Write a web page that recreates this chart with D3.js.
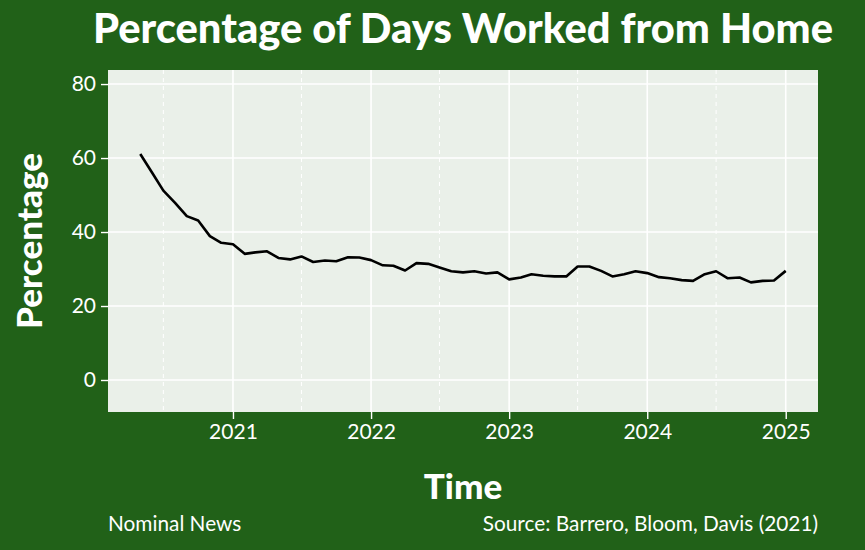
<!DOCTYPE html>
<html><head><meta charset="utf-8">
<script src="https://cdn.jsdelivr.net/npm/d3@7"></script>
<style>
html,body{margin:0;padding:0;background:#216118;}
svg{display:block;}
text{font-family:Lato,"Open Sans",sans-serif;fill:#fff;}
</style></head>
<body>
<svg id="chart" width="865" height="550"></svg>
<script>
const months = [
"2020-05","2020-06","2020-07","2020-08","2020-09","2020-10","2020-11","2020-12",
"2021-01","2021-02","2021-03","2021-04","2021-05","2021-06","2021-07","2021-08","2021-09","2021-10","2021-11","2021-12",
"2022-01","2022-02","2022-03","2022-04","2022-05","2022-06","2022-07","2022-08","2022-09","2022-10","2022-11","2022-12",
"2023-01","2023-02","2023-03","2023-04","2023-05","2023-06","2023-07","2023-08","2023-09","2023-10","2023-11","2023-12",
"2024-01","2024-02","2024-03","2024-04","2024-05","2024-06","2024-07","2024-08","2024-09","2024-10","2024-11","2024-12",
"2025-01"];
const wfhPercent = [
61.1,56.1,51.2,47.9,44.3,43.1,38.9,37.1,
36.7,34.1,34.5,34.8,33.0,32.6,33.4,31.9,32.3,32.1,33.2,33.1,
32.4,31.0,30.9,29.6,31.6,31.4,30.4,29.4,29.1,29.4,28.8,29.1,
27.2,27.7,28.6,28.2,28.0,28.0,30.7,30.7,29.5,28.0,28.6,29.4,
28.9,27.8,27.5,27.0,26.8,28.6,29.4,27.5,27.7,26.4,26.8,26.9,
29.5];
const yTicks = [0,20,40,60,80];
const xTickYears = ["2021","2022","2023","2024","2025"];
const minorYears = ["2020-07","2021-07","2022-07","2023-07","2024-07"];
const titleText = "Percentage of Days Worked from Home";
const xLabel = "Time", yLabel = "Percentage";
const captionLeft = "Nominal News", captionRight = "Source: Barrero, Bloom, Davis (2021)";

const parse = d3.timeParse("%Y-%m");
const data = months.map((m,i)=>({date:parse(m), v:wfhPercent[i]}));

const svg = d3.select("#chart");
const panel = {left:108, right:818, top:70, bottom:412};

const ext = d3.extent(data, d=>d.date);
const span = ext[1]-ext[0];
const x = d3.scaleTime()
  .domain([new Date(+ext[0]-span*0.05), new Date(+ext[1]+span*0.05)])
  .range([panel.left, panel.right]);
const y = d3.scaleLinear().domain([-8.65, 83.8]).range([panel.bottom, panel.top]);

svg.append("rect").attr("width",865).attr("height",550).attr("fill","#216118");
svg.append("rect").attr("x",panel.left).attr("y",panel.top)
  .attr("width",panel.right-panel.left).attr("height",panel.bottom-panel.top)
  .attr("fill","#EAF0E9");

const majorX = xTickYears.map(s=>d3.timeParse("%Y")(s));
const minorX = minorYears.map(parse);

const g = svg.append("g");
g.selectAll(".minx").data(minorX).join("line")
  .attr("x1",d=>x(d)).attr("x2",d=>x(d)).attr("y1",panel.top).attr("y2",panel.bottom)
  .attr("stroke","#fff").attr("stroke-width",1).attr("stroke-dasharray","4,4");
g.selectAll(".majy").data(yTicks).join("line")
  .attr("x1",panel.left).attr("x2",panel.right).attr("y1",d=>y(d)).attr("y2",d=>y(d))
  .attr("stroke","#fff").attr("stroke-width",1.6);
g.selectAll(".majx").data(majorX).join("line")
  .attr("x1",d=>x(d)).attr("x2",d=>x(d)).attr("y1",panel.top).attr("y2",panel.bottom)
  .attr("stroke","#fff").attr("stroke-width",1.6);

// axes
const xAxis = d3.axisBottom(x).tickValues(majorX).tickFormat(d3.timeFormat("%Y")).tickSize(7).tickPadding(5);
const gx = svg.append("g").attr("transform",`translate(0,${panel.bottom})`).call(xAxis);
gx.select(".domain").remove();
gx.selectAll("line").attr("stroke","#fff").attr("stroke-width",1.4);
gx.selectAll("text").attr("fill","#fff").style("font-size","21px").style("font-family","Lato");

const yAxis = d3.axisLeft(y).tickValues(yTicks).tickSize(7).tickPadding(5);
const gy = svg.append("g").attr("transform",`translate(${panel.left},0)`).call(yAxis);
gy.select(".domain").remove();
gy.selectAll("line").attr("stroke","#fff").attr("stroke-width",1.4);
gy.selectAll("text").attr("fill","#fff").style("font-size","21px").style("font-family","Lato");

// line
const line = d3.line().x(d=>x(d.date)).y(d=>y(d.v));
svg.append("path").datum(data).attr("d",line)
  .attr("fill","none").attr("stroke","#000").attr("stroke-width",2.6)
  .attr("stroke-linejoin","round");

// texts
const cx = (panel.left+panel.right)/2;
svg.append("text").attr("x",cx).attr("y",43).attr("text-anchor","middle")
  .attr("textLength",740).attr("lengthAdjust","spacingAndGlyphs")
  .style("font-size","41px").style("font-weight","900").text(titleText);
svg.append("text").attr("x",cx).attr("y",499).attr("text-anchor","middle")
  .style("font-size","35px").style("font-weight","900").text(xLabel);
svg.append("text").attr("transform",`translate(42,${(panel.top+panel.bottom)/2}) rotate(-90)`)
  .attr("text-anchor","middle").style("font-size","35px").style("font-weight","900").text(yLabel);
svg.append("text").attr("x",panel.left).attr("y",531).style("font-size","20.8px").text(captionLeft);
svg.append("text").attr("x",panel.right).attr("y",531).attr("text-anchor","end").style("font-size","20.8px").text(captionRight);
</script>
</body></html>
